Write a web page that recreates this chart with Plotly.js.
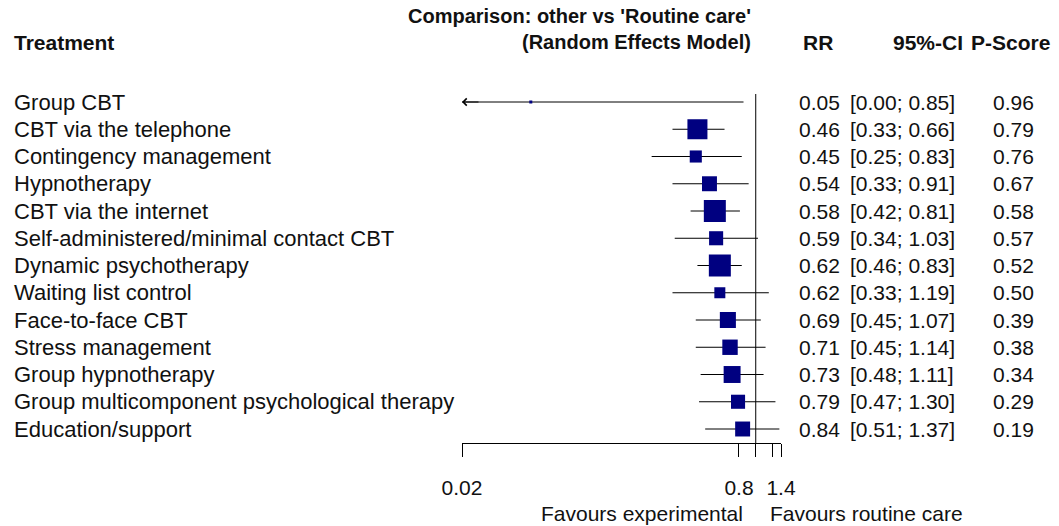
<!DOCTYPE html>
<html><head><meta charset="utf-8">
<script src="https://cdn.plot.ly/plotly-3.0.1.min.js"></script>
<style>html,body{margin:0;padding:0;background:#fff}</style>
</head><body>
<div id="chart" style="width:1059px;height:526px"></div>
<script>
// ---------------- data ----------------
const treatments = [
  "Group CBT",
  "CBT via the telephone",
  "Contingency management",
  "Hypnotherapy",
  "CBT via the internet",
  "Self-administered/minimal contact CBT",
  "Dynamic psychotherapy",
  "Waiting list control",
  "Face-to-face CBT",
  "Stress management",
  "Group hypnotherapy",
  "Group multicomponent psychological therapy",
  "Education/support"
];
const rr      = [0.05, 0.46, 0.45, 0.54, 0.58, 0.59, 0.62, 0.62, 0.69, 0.71, 0.73, 0.79, 0.84];
const ciLower = [0.00, 0.33, 0.25, 0.33, 0.42, 0.34, 0.46, 0.33, 0.45, 0.45, 0.48, 0.47, 0.51];
const ciUpper = [0.85, 0.66, 0.83, 0.91, 0.81, 1.03, 0.83, 1.19, 1.07, 1.14, 1.11, 1.30, 1.37];
const pScore  = [0.96, 0.79, 0.76, 0.67, 0.58, 0.57, 0.52, 0.50, 0.39, 0.38, 0.34, 0.29, 0.19];
const weight  = [0.12, 0.91, 0.55, 0.68, 1.00, 0.64, 1.00, 0.50, 0.73, 0.70, 0.77, 0.64, 0.68];
const tickValues = [0.02, 0.8, 1, 1.25, 1.4];
const tickLabels = ["0.02", "0.8", "", "", "1.4"];
const xMin = 0.02, xMax = 1.4, nullValue = 1;
const titleLines = ["Comparison: other vs 'Routine care'", "(Random Effects Model)"];
const headers = {treatment: "Treatment", rr: "RR", ci: "95%-CI", p: "P-Score"};
const favours = ["Favours experimental", "Favours routine care"];

// ---------------- layout helpers ----------------
const W = 1059, H = 526;
const plotTop = 94, plotBottom = 443, plotLeft = 462, plotRight = 781;
const rowTop = 102, rowStep = 27.25;
const px = x => x / W;
const py = y => (plotBottom - y) / (plotBottom - plotTop);
const n = treatments.length;
const rows = treatments.map((_, i) => i);
const FONT = "Liberation Sans, Arial, Helvetica, sans-serif";
const FS = 21;
const fmt = v => v.toFixed(2);

// CI segments (lower end clipped to axis minimum)
const ciX = [], ciY = [];
for (let i = 0; i < n; i++) {
  ciX.push(Math.max(ciLower[i], xMin), Math.min(ciUpper[i], xMax), null);
  ciY.push(i, i, null);
}

const traces = [
  {type: "scatter", mode: "lines", x: ciX, y: ciY, line: {color: "#000", width: 1}, hoverinfo: "skip", showlegend: false},
  {type: "scatter", mode: "markers", x: rr, y: rows,
   marker: {symbol: "square", color: "#000080", opacity: 1, size: weight.map(w => Math.max(3, 22 * w)), line: {width: 0}},
   showlegend: false}
];

const ann = [];
// arrow for clipped lower CI
for (let i = 0; i < n; i++) {
  if (ciLower[i] < xMin) {
    ann.push({xref: "x", yref: "y", x: Math.log10(xMin), y: i, ax: 18, ay: 0, text: "",
      showarrow: true, arrowhead: 4, arrowsize: 1.4, arrowwidth: 1, arrowcolor: "#000", standoff: 0});
  }
}
const txt = (o, size) => Object.assign({showarrow: false, yanchor: "middle",
  font: {family: FONT, size: size || FS, color: "#111"}}, o);
for (let i = 0; i < n; i++) {
  ann.push(txt({xref: "paper", yref: "y", x: px(12), y: i, xanchor: "left", text: treatments[i]}, 22));
  ann.push(txt({xref: "paper", yref: "y", x: px(842), y: i, xanchor: "right", text: fmt(rr[i])}));
  ann.push(txt({xref: "paper", yref: "y", x: px(848), y: i, xanchor: "left", text: "[" + fmt(ciLower[i]) + "; " + fmt(ciUpper[i]) + "]"}));
  ann.push(txt({xref: "paper", yref: "y", x: px(1013), y: i, xanchor: "center", text: fmt(pScore[i])}));
}
// headers
const hy = 42;
ann.push(txt({xref: "paper", yref: "paper", x: px(753), y: py(16), xanchor: "right", text: "<b>" + titleLines[0] + "</b>"}, 20));
ann.push(txt({xref: "paper", yref: "paper", x: px(753), y: py(hy), xanchor: "right", text: "<b>" + titleLines[1] + "</b>"}, 20));
ann.push(txt({xref: "paper", yref: "paper", x: px(12), y: py(hy), xanchor: "left", text: "<b>" + headers.treatment + "</b>"}));
ann.push(txt({xref: "paper", yref: "paper", x: px(818), y: py(hy), xanchor: "center", text: "<b>" + headers.rr + "</b>"}));
ann.push(txt({xref: "paper", yref: "paper", x: px(965), y: py(hy), xanchor: "right", text: "<b>" + headers.ci + "</b>"}));
ann.push(txt({xref: "paper", yref: "paper", x: px(1010), y: py(hy), xanchor: "center", text: "<b>" + headers.p + "</b>"}));
// favours labels
ann.push(txt({xref: "paper", yref: "paper", x: px(745), y: py(513), xanchor: "right", text: favours[0]}));
ann.push(txt({xref: "paper", yref: "paper", x: px(768), y: py(513), xanchor: "left", text: favours[1]}));

const layout = {
  width: W, height: H,
  margin: {l: 0, r: 0, t: plotTop, b: H - plotBottom, pad: 0},
  paper_bgcolor: "#fff", plot_bgcolor: "#fff",
  font: {family: FONT, size: FS, color: "#111"},
  showlegend: false,
  xaxis: {
    type: "log", domain: [px(plotLeft), px(plotRight)],
    range: [Math.log10(xMin), Math.log10(xMax)], autorange: false,
    showgrid: false, zeroline: false, showline: true, linecolor: "#000", linewidth: 1,
    ticks: "outside", ticklen: 13, tickwidth: 1, tickcolor: "#000",
    tickmode: "array", tickvals: tickValues, ticktext: tickLabels,
    ticklabelstandoff: 13, tickfont: {family: FONT, size: FS, color: "#111"}
  },
  yaxis: {
    range: [(plotBottom - rowTop) / rowStep, (plotTop - rowTop) / rowStep], autorange: false,
    showgrid: false, zeroline: false, showline: false, showticklabels: false, ticks: ""
  },
  shapes: [{type: "line", xref: "x", yref: "paper", x0: nullValue, x1: nullValue, y0: 0, y1: 1,
            line: {color: "#000", width: 1}}],
  annotations: ann
};

Plotly.newPlot("chart", traces, layout, {staticPlot: true, displayModeBar: false});
</script>
</body></html>
